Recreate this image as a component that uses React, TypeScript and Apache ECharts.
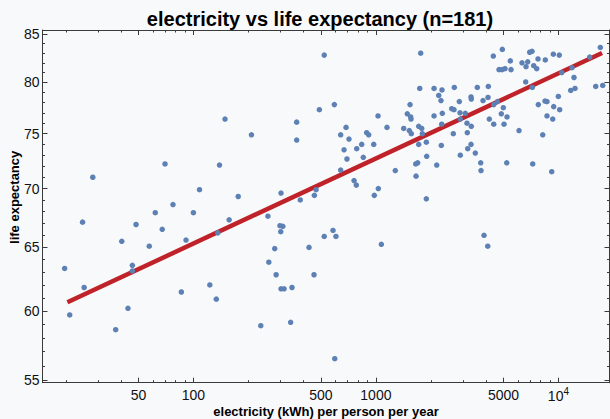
import React, { useEffect, useRef } from "react";
import * as echarts from "echarts";

const electricity = [
  28.1, 69.9, 149, 139, 108, 77.3, 61.8, 100, 157, 24.7, 48.5, 67.5, 40.5, 57.3, 91.1, 136, 19.7, 46.3, 46.3, 25.2,
  85.9, 123, 133.5, 43.8, 21.0, 37.5, 176, 208, 256, 302, 368, 368, 385, 460, 470, 490, 521, 592, 641, 686,
  712, 669, 694, 641, 759, 781, 785, 836, 853, 890, 913, 973, 1027, 1150, 980, 1031, 1277, 298, 309, 301,
  279, 259, 284, 302, 314, 347, 234, 341, 430, 458, 521, 582, 604, 595, 1071, 1760, 1738, 2082, 2302, 2209,
  2273, 2689, 2864, 2602, 2679, 2889, 3090, 2900, 2311, 2082, 2294, 1538, 1486, 1551, 1557, 1420, 1524, 1563, 1716, 1782,
  1796, 1716, 1889, 1898, 1653, 1694, 1659, 1889, 2154, 2282, 2655, 2900, 3168, 3184, 3320, 3505, 3751, 3766, 3156, 3332,
  3594, 3320, 3332, 3863, 4114, 4130, 4182, 4421, 4421, 4626, 4866, 4990, 5034, 5229, 5209, 4399, 4928, 4727, 4909, 5098,
  5450, 5500, 6083, 6317, 6644, 6788, 6961, 7166, 7322, 7604, 7730, 6618, 7194, 7760, 8474, 8443, 8658, 8204, 8658, 7230,
  9378, 10110, 9988, 9423, 10160, 9307, 9190, 10430, 11870, 12170, 11680, 12330, 14840, 16970, 16010, 17490, 3912, 4099,
];

const lifeExpectancy = [
  71.0, 72.2, 76.4, 72.1, 69.9, 68.6, 67.9, 67.9, 67.3, 67.1, 66.9, 66.5, 65.5, 65.1, 65.6, 66.2, 63.3, 63.55, 63.1, 61.8,
  61.45, 62.0, 60.9, 60.2, 59.7, 58.6, 69.3, 74.9, 67.6, 69.6, 76.1, 74.4, 69.0, 69.4, 69.9, 77.3, 82.8, 77.8, 74.9, 75.6,
  74.5, 73.5, 72.65, 71.65, 70.7, 70.3, 73.6, 74.0, 72.8, 75.1, 74.9, 74.0, 76.7, 75.6, 69.4, 70.0, 71.6, 66.8, 66.75, 66.3,
  64.9, 63.8, 62.8, 61.7, 61.7, 61.8, 58.9, 59.15, 65.0, 62.8, 65.9, 66.4, 65.9, 56.5, 65.25, 83.0, 79.4, 79.4, 79.25, 78.7,
  78.2, 79.5, 78.1, 77.4, 77.3, 77.0, 76.95, 76.4, 76.95, 76.7, 75.9, 77.8, 76.9, 76.6, 76.4, 75.5, 75.3, 75.0, 75.7, 75.5,
  75.0, 74.0, 74.2, 72.9, 72.2, 72.3, 71.1, 69.1, 72.1, 73.9, 75.0, 73.0, 75.1, 73.6, 74.0, 73.2, 72.3, 71.6, 76.0, 75.7,
  79.5, 78.55, 78.35, 78.2, 78.5, 79.6, 76.4, 75.9, 77.8, 78.1, 76.9, 77.5, 75.9, 76.6, 72.3, 82.7, 83.4, 81.3, 81.3, 81.4,
  82.2, 81.3, 75.3, 82.0, 81.6, 82.1, 83.1, 83.2, 81.7, 81.4, 82.4, 80.05, 79.5, 77.8, 82.3, 78.15, 78.1, 74.9, 76.7, 72.2,
  82.9, 82.8, 78.6, 77.6, 77.3, 76.4, 71.5, 81.0, 81.5, 80.5, 79.2, 79.4, 82.6, 83.6, 79.6, 79.7, 66.0, 65.1,
];

const fitElectricity = [20.4, 17340];
const fitLifeExpectancy = [60.66, 83.02];

const xMajorTicks = [50, 100, 500, 1000, 5000, 10000];
const xMinorTicks = [20, 30, 40, 60, 70, 80, 90, 200, 300, 400, 600, 700, 800, 900, 2000, 3000, 4000, 6000, 7000, 8000, 9000];
const yMajorTicks = [55, 60, 65, 70, 75, 80, 85];
const yMinorTicks = [56, 57, 58, 59, 61, 62, 63, 64, 66, 67, 68, 69, 71, 72, 73, 74, 76, 77, 78, 79, 81, 82, 83, 84];

const X_MIN = 14.9;
const X_MAX = 19050;
const Y_MIN = 54.82;
const Y_MAX = 85.46;

const AXIS_COLOR = "#3a3a3a";
const FONT = "Liberation Sans, Arial, Helvetica, sans-serif";

export default function App() {
  const ref = useRef<HTMLDivElement>(null);

  useEffect(() => {
    if (!ref.current) return;
    const chart = echarts.init(ref.current, null, { renderer: "svg" });

    const points = electricity.map((e, i) => [e, lifeExpectancy[i]]);
    const fitLine = fitElectricity.map((e, i) => [e, fitLifeExpectancy[i]]);

    const xAxisBase = (position: "top" | "bottom", ticks: number[], len: number, main: boolean, line: boolean) => ({
      type: "log" as const,
      logBase: 10,
      min: X_MIN,
      max: X_MAX,
      position,
      splitLine: { show: false },
      axisLine: { show: line, lineStyle: { color: AXIS_COLOR, width: 1 } },
      axisTick: { show: true, inside: true, length: len, customValues: ticks, lineStyle: { color: AXIS_COLOR, width: 1 } },
      axisLabel: main
        ? {
            show: true,
            customValues: xMajorTicks,
            margin: 4,
            color: "#111",
            fontFamily: FONT,
            fontSize: 14,
            lineHeight: 16,
            formatter: (v: number) => {
              const r = Math.round(v);
              return r === 10000 ? "{b|10}{s|4}" : String(r);
            },
            rich: {
              b: { fontSize: 14, fontFamily: FONT, color: "#111", lineHeight: 16, verticalAlign: "bottom" },
              s: { fontSize: 10, fontFamily: FONT, color: "#111", lineHeight: 10, verticalAlign: "top" },
            },
          }
        : { show: false },
      ...(main
        ? {
            name: "electricity (kWh) per person per year",
            nameLocation: "middle" as const,
            nameGap: 22,
            nameMoveOverlap: false,
            nameTextStyle: { fontFamily: FONT, fontSize: 13, fontWeight: "bold" as const, color: "#000", lineHeight: 14 },
          }
        : {}),
    });

    const yAxisBase = (position: "left" | "right", ticks: number[], len: number, main: boolean, line: boolean) => ({
      type: "log" as const,
      logBase: 10,
      min: Y_MIN,
      max: Y_MAX,
      position,
      splitLine: { show: false },
      axisLine: { show: line, lineStyle: { color: AXIS_COLOR, width: 1 } },
      axisTick: { show: true, inside: true, length: len, customValues: ticks, lineStyle: { color: AXIS_COLOR, width: 1 } },
      axisLabel: main
        ? {
            show: true,
            customValues: yMajorTicks,
            margin: 3,
            color: "#111",
            fontFamily: FONT,
            fontSize: 14,
            formatter: (v: number) => String(Math.round(v)),
          }
        : { show: false },
      ...(main
        ? {
            name: "life expectancy",
            nameLocation: "middle" as const,
            nameGap: 22,
            nameMoveOverlap: false,
            nameTextStyle: {
              fontFamily: FONT,
              fontSize: 13,
              fontWeight: "bold" as const,
              color: "#000",
              padding: [0, 0, 0, 18],
            },
          }
        : {}),
    });

    chart.setOption({
      animation: false,
      backgroundColor: "#f8f9fb",
      title: {
        text: "electricity vs life expectancy (n=181)",
        left: 320,
        top: 9,
        padding: 0,
        textAlign: "center",
        textStyle: { fontFamily: FONT, fontSize: 20, fontWeight: "bold", color: "#000" },
      },
      grid: { left: 42.5, right: 0.5, top: 30, bottom: 36.3, containLabel: false, outerBoundsMode: "none" },
      xAxis: [
        xAxisBase("bottom", xMajorTicks, 5, true, true),
        xAxisBase("bottom", xMinorTicks, 2.5, false, false),
        xAxisBase("top", xMajorTicks, 5, false, true),
        xAxisBase("top", xMinorTicks, 2.5, false, false),
      ],
      yAxis: [
        yAxisBase("left", yMajorTicks, 5, true, true),
        yAxisBase("left", yMinorTicks, 2.5, false, false),
        yAxisBase("right", yMajorTicks, 5, false, true),
        yAxisBase("right", yMinorTicks, 2.5, false, false),
      ],
      series: [
        {
          type: "line",
          name: "fit",
          xAxisIndex: 0,
          yAxisIndex: 0,
          data: fitLine,
          showSymbol: false,
          symbol: "none",
          lineStyle: { color: "#bf2228", width: 4.5, cap: "butt" },
          z: 2,
          silent: true,
        },
        {
          type: "scatter",
          name: "countries",
          xAxisIndex: 0,
          yAxisIndex: 0,
          data: points,
          symbolSize: 5.5,
          itemStyle: { color: "#5e81b5", opacity: 1 },
          z: 3,
        },
      ],
    });

    return () => chart.dispose();
  }, []);

  return (
    <div
      ref={ref}
      style={{ position: "fixed", left: 0, top: 0, width: 610, height: 419, background: "#f8f9fb" }}
    />
  );
}
